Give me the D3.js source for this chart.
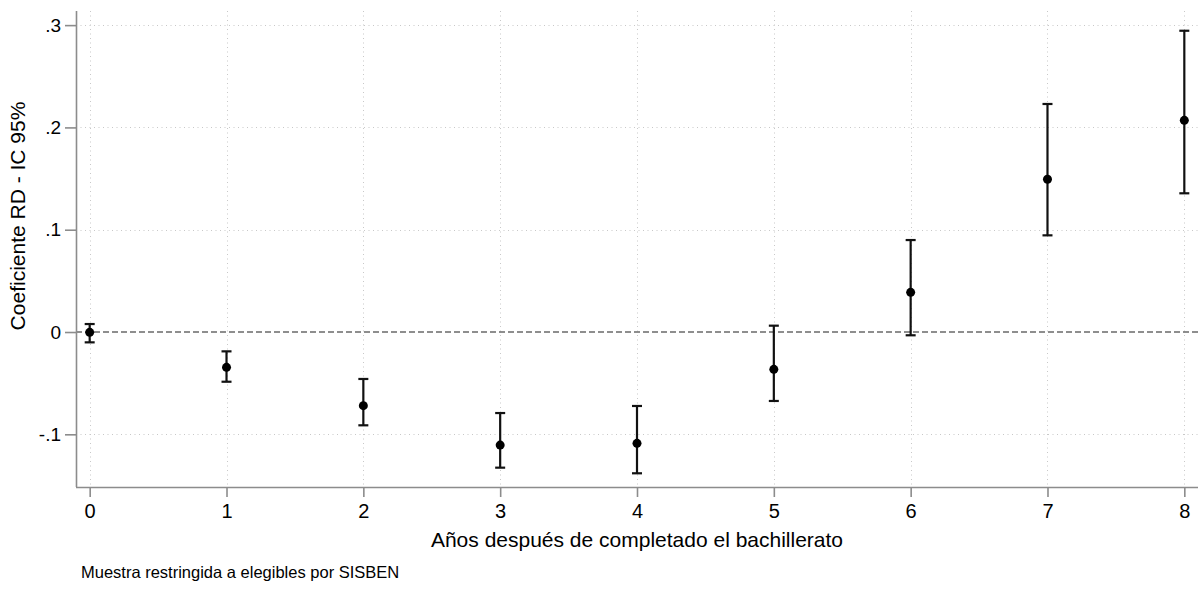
<!DOCTYPE html>
<html>
<head>
<meta charset="utf-8">
<script src="https://cdn.jsdelivr.net/npm/d3@7"></script>
<style>
  html, body { margin: 0; padding: 0; background: #fff; }
  svg { display: block; font-family: "Liberation Sans", Arial, sans-serif; }
</style>
</head>
<body>
<svg id="chart" width="1198" height="589"></svg>
<script>
// Years after finishing secondary school
const years = [0, 1, 2, 3, 4, 5, 6, 7, 8];
// RD point estimates
const coef = [-0.0003, -0.0345, -0.0720, -0.1105, -0.1088, -0.0365, 0.0388, 0.1493, 0.2069];
// 95% confidence bounds
const ciLow = [-0.0101, -0.0486, -0.0912, -0.1326, -0.1381, -0.0674, -0.0032, 0.0945, 0.1356];
const ciHigh = [0.0078, -0.0189, -0.0459, -0.0792, -0.0723, 0.0062, 0.0899, 0.2229, 0.2945];
// Axis ticks
const yTicks = [-0.1, 0, 0.1, 0.2, 0.3];
const yTickLabels = ["-.1", "0", ".1", ".2", ".3"];
const xTicks = [0, 1, 2, 3, 4, 5, 6, 7, 8];

const rows = years.map((yr, i) => ({ year: yr, b: coef[i], lo: ciLow[i], hi: ciHigh[i] }));

const svg = d3.select("#chart");
const plotL = 76, plotR = 1198, plotT = 11, plotB = 487;

const x = d3.scaleLinear().domain([-0.1, 8.1]).range([plotL, plotR]);
const y = d3.scaleLinear().domain([-0.1515, 0.3138]).range([plotB, plotT]);

// Grid lines
const grid = svg.append("g").attr("stroke", "#c8c8c8").attr("stroke-width", 1)
  .attr("stroke-dasharray", "1,3.5");
grid.selectAll("line.h").data(yTicks.filter(d => d !== 0)).join("line")
  .attr("class", "h")
  .attr("x1", plotL).attr("x2", plotR)
  .attr("y1", d => Math.round(y(d)) + 0.5).attr("y2", d => Math.round(y(d)) + 0.5);
grid.selectAll("line.v").data(xTicks).join("line")
  .attr("class", "v")
  .attr("y1", plotT).attr("y2", plotB)
  .attr("x1", d => Math.round(x(d)) + 0.5).attr("x2", d => Math.round(x(d)) + 0.5);

// Reference line at zero
svg.append("line")
  .attr("x1", plotL).attr("x2", plotR)
  .attr("y1", y(0)).attr("y2", y(0))
  .attr("stroke", "#6a6a6a").attr("stroke-width", 1.3)
  .attr("stroke-dasharray", "6,3");

// Axes
const yAxis = d3.axisLeft(y).tickValues(yTicks)
  .tickFormat((d, i) => yTickLabels[i]).tickSize(11).tickPadding(4);
const gy = svg.append("g").attr("transform", `translate(${plotL},0)`).call(yAxis);
gy.select(".domain").attr("d", `M0.5,${plotT}V${plotB}`);

const xAxis = d3.axisBottom(x).tickValues(xTicks).tickSize(10).tickPadding(7);
const gx = svg.append("g").attr("transform", `translate(0,${plotB})`).call(xAxis);
gx.select(".domain").attr("d", `M${plotL},0.5H${plotR}`);

[gx, gy].forEach(g => {
  g.select(".domain").attr("stroke", "#8c8c8c").attr("stroke-width", 1.6).attr("fill", "none");
  g.selectAll(".tick line").attr("stroke", "#8c8c8c").attr("stroke-width", 1.6);
  g.selectAll(".tick text").attr("fill", "#000")
    .attr("font-family", "'Liberation Sans', Arial, sans-serif");
});
gx.selectAll(".tick text").attr("font-size", 20);
gy.selectAll(".tick text").attr("font-size", 19);

// Confidence intervals
const capW = 5;
const bars = svg.append("g").attr("stroke", "#111").attr("stroke-width", 2.2);
bars.selectAll("line.ci").data(rows).join("line")
  .attr("class", "ci")
  .attr("x1", d => x(d.year)).attr("x2", d => x(d.year))
  .attr("y1", d => y(d.lo)).attr("y2", d => y(d.hi));
bars.selectAll("line.capHi").data(rows).join("line")
  .attr("class", "capHi")
  .attr("x1", d => x(d.year) - capW).attr("x2", d => x(d.year) + capW)
  .attr("y1", d => y(d.hi)).attr("y2", d => y(d.hi));
bars.selectAll("line.capLo").data(rows).join("line")
  .attr("class", "capLo")
  .attr("x1", d => x(d.year) - capW).attr("x2", d => x(d.year) + capW)
  .attr("y1", d => y(d.lo)).attr("y2", d => y(d.lo));

// Point estimates
svg.append("g").selectAll("circle").data(rows).join("circle")
  .attr("cx", d => x(d.year)).attr("cy", d => y(d.b)).attr("r", 4.5)
  .attr("fill", "#000");

// Axis titles and note
svg.append("text")
  .attr("transform", `translate(25,${(plotT + plotB) / 2 - 33}) rotate(-90)`)
  .attr("text-anchor", "middle").attr("font-size", 21).attr("fill", "#000")
  .text("Coeficiente RD - IC 95%");

svg.append("text")
  .attr("x", (plotL + plotR) / 2).attr("y", 547)
  .attr("text-anchor", "middle").attr("font-size", 21).attr("fill", "#000")
  .text("Años después de completado el bachillerato");

svg.append("text")
  .attr("x", 81).attr("y", 578)
  .attr("font-size", 16.5).attr("fill", "#000")
  .text("Muestra restringida a elegibles por SISBEN");
</script>
</body>
</html>
